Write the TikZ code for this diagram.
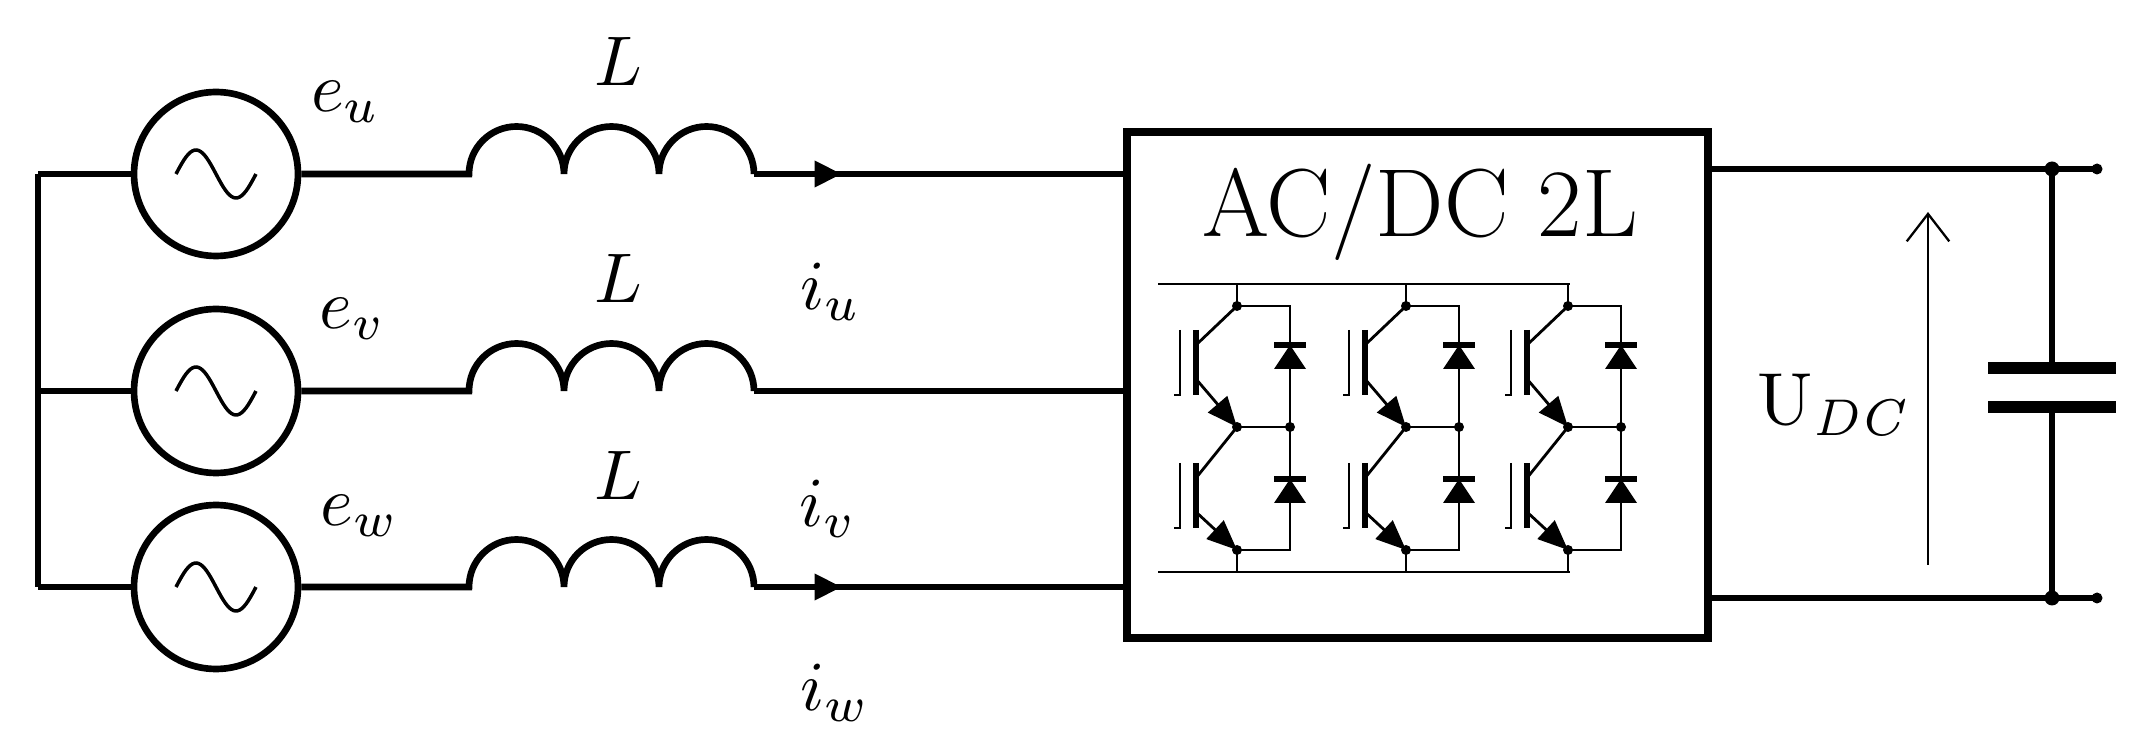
\documentclass[tikz,border=0pt]{standalone}
\usepackage{tikz}
\usetikzlibrary{arrows.meta}

\tikzset{
  wire/.style={line width=3.8pt},
  thin wire/.style={line width=1.6pt},
  dot/.style={circle, fill, inner sep=0pt, minimum size=#1},
  dot/.default=0.22cm,
  lbl/.style={transform shape, scale=#1},
  lbl/.default=4,
}

\begin{document}
\begin{tikzpicture}[x=0.02cm, y=-0.02cm]
      \useasboundingbox (0,0) rectangle (2130,742);

      % converter box
      \node [draw, line width=4.5pt, minimum width=11.62cm, minimum height=10.12cm,
             inner sep=0pt] (conv) at (1417.5,385) {};
      \node [font=\fontsize{55}{60}\selectfont] (conv-title) at (1420,212) {AC/DC 2L};

      % three phases: source, inductor, line
      \foreach \p/\y/\ar [count=\i] in {u/174/1, v/391/0, w/587/1}
      {
      \node [draw, circle, wire, minimum size=3.28cm, inner sep=0pt] (src-\p) at (216,\y) {};
      \draw [line width=2pt] plot[domain=-1:1, samples=40] ({216+40*\x},{\y+24*sin(180*\x)});
      \coordinate (ind-\p-a) at (469,\y);
      \coordinate (ind-\p-b) at (754,\y);
      \coordinate (bus-\p) at (38,\y);
      \draw [wire] (bus-\p) -- (src-\p.west);
      \draw [wire] (src-\p.east) -- (ind-\p-a)
        arc[start angle=180, end angle=360, radius=47.5]
        arc[start angle=180, end angle=360, radius=47.5]
        arc[start angle=180, end angle=360, radius=47.5];
      \draw [wire] (ind-\p-b) -- (conv.west |- ind-\p-b);
      }
      \draw [wire] (bus-u) -- (bus-w);

      % current arrows
      \coordinate (ar-u) at (842,174);
      \coordinate (ar-w) at (842,587);
      \draw [wire, -{Triangle[length=0.55cm, width=0.5cm]}] (ind-u-b) -- (ar-u);
      \draw [wire, -{Triangle[length=0.55cm, width=0.5cm]}] (ind-w-b) -- (ar-w);

      % labels
      \foreach \l/\x/\y in {u/346/102, v/353/319, w/360/516}
      \node [lbl] (e-\l) at (\x,\y) {$e_{\l}$};
      \foreach \y [count=\i] in {61, 278, 475}
      \node [lbl] (L-\i) at (618,\y) {$L$};
      \foreach \l/\x/\y in {u/831/292, v/828/509, w/835/693}
      \node [lbl] (i-\l) at (\x,\y) {$i_{\l}$};

      % bridge rails
      \coordinate (rail-top-a) at (1158,284);
      \coordinate (rail-top-b) at (1570,284);
      \coordinate (rail-bot-a) at (1158,572);
      \coordinate (rail-bot-b) at (1570,572);
      \draw [thin wire] (rail-top-a) -- (rail-top-b);
      \draw [thin wire] (rail-bot-a) -- (rail-bot-b);

      % bridge legs
      \foreach \x [count=\k] in {1237, 1406, 1568}
      {
      \coordinate (top-\k) at (\x,306);
      \coordinate (mid-\k) at (\x,427);
      \coordinate (bot-\k) at (\x,550);
      \coordinate (dtop-\k) at (\x+53,306);
      \coordinate (dmid-\k) at (\x+53,427);
      \coordinate (dbot-\k) at (\x+53,550);
      \draw [thin wire] (\x,284) -- (top-\k) -- (dtop-\k) -- (dbot-\k) -- (bot-\k) -- (\x,572);
      \draw [thin wire] (mid-\k) -- (dmid-\k);
      \node [dot=0.2cm] at (top-\k) {};
      \node [dot=0.2cm] at (mid-\k) {};
      \node [dot=0.2cm] at (bot-\k) {};
      \node [dot=0.2cm] at (dmid-\k) {};
      % igbts
      \foreach \s/\c/\e in {0/top-\k/mid-\k, 133/mid-\k/bot-\k}
      {
      \draw [line width=3pt] (\x-41,330+\s) -- (\x-41,395+\s);
      \draw [thin wire] (\x-57,330+\s) -- (\x-57,395+\s) -- (\x-63,395+\s);
      \draw [thin wire] (\x-41,345+\s) -- (\c);
      \draw [thin wire, -{Triangle[length=0.6cm, width=0.5cm]}] (\x-41,379+\s) -- (\e);
      }
      % diodes
      \foreach \s in {0, 134}
      {
      \draw [line width=3pt] (\x+37,345+\s) -- (\x+69,345+\s);
      \fill (\x+53,345+\s) -- (\x+37,369+\s) -- (\x+69,369+\s) -- cycle;
      }
      }

      % dc link
      \coordinate (dc-p) at (2052,169);
      \coordinate (dc-n) at (2052,598);
      \coordinate (out-p) at (2097,169);
      \coordinate (out-n) at (2097,598);
      \coordinate (cap-a) at (2052,368);
      \coordinate (cap-b) at (2052,407);
      \draw [wire] (conv.east |- dc-p) -- (out-p);
      \draw [wire] (conv.east |- dc-n) -- (out-n);
      \draw [wire] (dc-p) -- (cap-a);
      \draw [wire] (cap-b) -- (dc-n);
      \draw [line width=7pt] (1988,368) -- (2116,368);
      \draw [line width=7pt] (1988,407) -- (2116,407);
      \foreach \c in {dc-p, dc-n}
      \node [dot=0.3cm] at (\c) {};
      \foreach \c in {out-p, out-n}
      \node [dot=0.22cm] at (\c) {};

      \coordinate (udc-a) at (1928,565);
      \coordinate (udc-b) at (1928,212);
      \draw [line width=1.3pt, -{Straight Barb[length=0.55cm, width=0.85cm]}] (udc-a) -- (udc-b);
      \node [lbl=4.2] (udc) at (1835,405) {U$_{\mathit{DC}}$};

\end{tikzpicture}
\end{document}
